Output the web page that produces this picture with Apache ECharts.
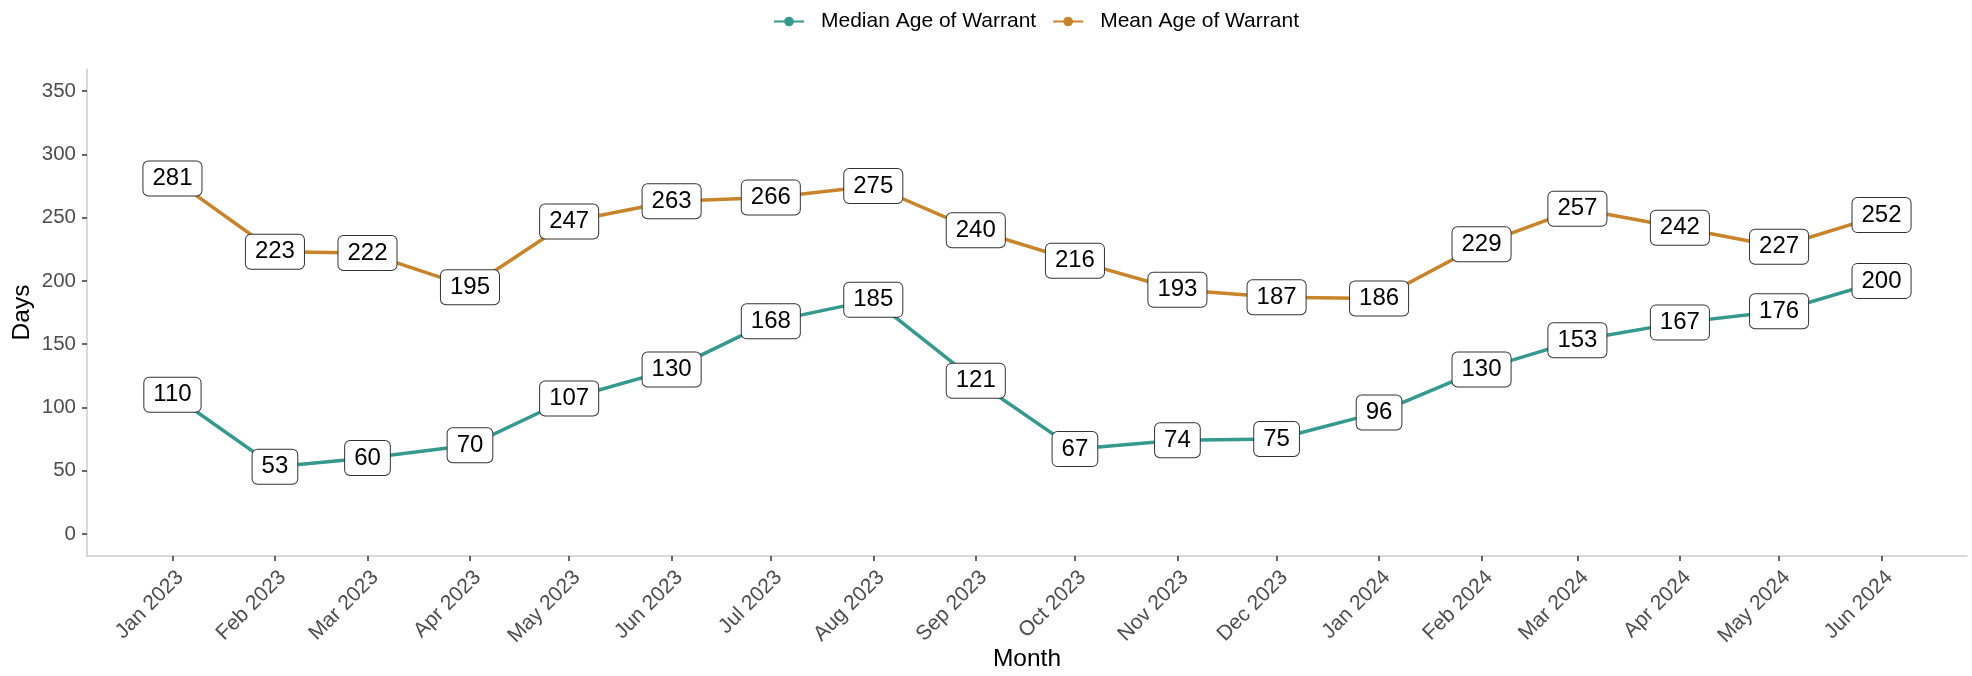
<!DOCTYPE html>
<html lang="en">
<head>
    <meta charset="UTF-8">
    <title>Age of Warrant</title>
    <script src="https://cdn.jsdelivr.net/npm/echarts@6/dist/echarts.min.js"></script>
    <style>
        html, body { margin: 0; padding: 0; background: #fff; }
        #chart { width: 1972px; height: 676px; }
    </style>
</head>
<body>
<div id="chart"></div>
<script>
    // month starts, Jan 2023 .. Jun 2024
    var months = ['2023-01', '2023-02', '2023-03', '2023-04', '2023-05', '2023-06', '2023-07', '2023-08', '2023-09',
        '2023-10', '2023-11', '2023-12', '2024-01', '2024-02', '2024-03', '2024-04', '2024-05', '2024-06'];
    var medianAge = [110, 53, 60, 70, 107, 130, 168, 185, 121, 67, 74, 75, 96, 130, 153, 167, 176, 200];
    var meanAge = [281, 223, 222, 195, 247, 263, 266, 275, 240, 216, 193, 187, 186, 229, 257, 242, 227, 252];
    var yTicks = [0, 50, 100, 150, 200, 250, 300, 350];
    var monthNames = ['Jan', 'Feb', 'Mar', 'Apr', 'May', 'Jun', 'Jul', 'Aug', 'Sep', 'Oct', 'Nov', 'Dec'];

    var FONT = '"Liberation Sans", Arial, sans-serif';

    // x values are days since Jan 1 2023, so the month spacing stays true
    var DAY = 86400000;
    var t0 = Date.UTC(2023, 0, 1);
    function toDay(m) {
        var p = m.split('-');
        return (Date.UTC(+p[0], +p[1] - 1, 1) - t0) / DAY;
    }
    var days = months.map(toDay);
    var span = days[days.length - 1] - days[0];
    // ggplot style 5% padding on both axes
    var xMin = days[0] - span * 0.05;
    var xMax = days[days.length - 1] + span * 0.05;
    var yMin = -17.5, yMax = 367.5;

    function pairs(vals) {
        return vals.map(function (v, i) { return [days[i], v]; });
    }
    function fmtMonth(v) {
        var d = new Date(t0 + Math.round(v) * DAY);
        return monthNames[d.getUTCMonth()] + ' ' + d.getUTCFullYear();
    }

    var labelStyle = {
        show: true,
        position: 'inside',
        fontFamily: FONT,
        fontSize: 24,
        lineHeight: 24,
        color: '#000',
        backgroundColor: '#fff',
        borderColor: '#333',
        borderWidth: 1,
        borderRadius: 5,
        padding: [5, 9, 5, 9]
    };

    var chart = echarts.init(document.getElementById('chart'));
    chart.setOption({
        animation: false,
        grid: { left: 87, right: 5, top: 69, bottom: 120, outerBoundsMode: 'none' },
        legend: {
            top: 6,
            left: 768,
            itemWidth: 30,
            itemHeight: 12,
            itemGap: 16,
            data: ['Median Age of Warrant', 'Mean Age of Warrant'],
            textStyle: { fontFamily: FONT, fontSize: 21, color: '#000', padding: [0, 0, 0, 12] }
        },
        xAxis: {
            type: 'value',
            min: xMin,
            max: xMax,
            name: 'Month',
            nameLocation: 'middle',
            nameGap: 91,
            nameMoveOverlap: false,
            nameTextStyle: { fontFamily: FONT, fontSize: 24.5, color: '#000' },
            axisLine: { onZero: false, lineStyle: { color: '#cccccc', width: 1.5 } },
            axisTick: { show: true, length: 5, lineStyle: { color: '#333', width: 1.5 }, customValues: days },
            axisLabel: {
                customValues: days,
                rotate: 45,
                margin: 26,
                padding: [0, -11, 0, 0],
                fontFamily: FONT,
                fontSize: 21,
                color: '#4d4d4d',
                formatter: fmtMonth
            },
            splitLine: { show: false }
        },
        yAxis: {
            type: 'value',
            min: yMin,
            max: yMax,
            name: 'Days',
            nameLocation: 'middle',
            nameGap: 52,
            nameMoveOverlap: false,
            nameTextStyle: { fontFamily: FONT, fontSize: 24.5, color: '#000' },
            axisLine: { show: true, onZero: false, lineStyle: { color: '#cccccc', width: 1.5 } },
            axisTick: { show: true, length: 5, lineStyle: { color: '#333', width: 1.5 }, customValues: yTicks },
            axisLabel: { customValues: yTicks, margin: 11, fontFamily: FONT, fontSize: 20.5, color: '#4d4d4d' },
            splitLine: { show: false }
        },
        series: [
            {
                name: 'Median Age of Warrant',
                type: 'line',
                data: pairs(medianAge),
                color: '#35998e',
                symbol: 'circle',
                symbolSize: 8,
                lineStyle: { width: 3.5 },
                label: labelStyle,
                z: 2
            },
            {
                name: 'Mean Age of Warrant',
                type: 'line',
                data: pairs(meanAge),
                color: '#c8842b',
                symbol: 'circle',
                symbolSize: 8,
                lineStyle: { width: 3.5 },
                label: labelStyle,
                z: 2
            }
        ]
    });
</script>
</body>
</html>
